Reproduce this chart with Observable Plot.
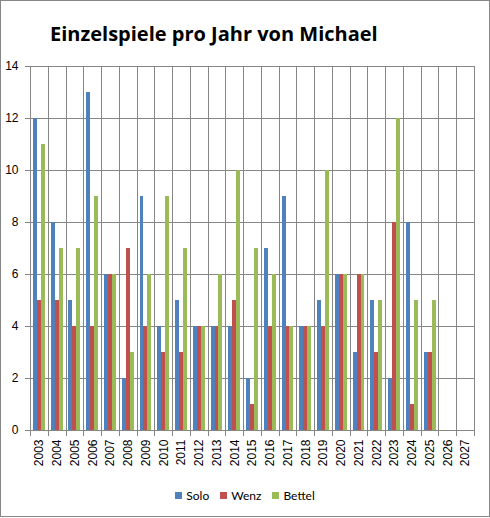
<!DOCTYPE html>
<html><head><meta charset="utf-8">
<script src="https://cdn.jsdelivr.net/npm/d3@7"></script>
<script src="https://cdn.jsdelivr.net/npm/@observablehq/plot@0.6"></script>
<style>
html,body{margin:0;padding:0;background:#fff;}
#chart{position:relative;width:488px;height:515px;border:1px solid #868686;overflow:hidden;background:#fff;}
#title{position:absolute;top:23px;left:49px;font-family:"Open Sans";font-weight:bold;font-size:20px;line-height:20px;color:#000;white-space:nowrap;}
#plot{position:absolute;top:50px;left:0;}
#legend{position:absolute;top:487px;left:0;width:488px;display:flex;justify-content:center;align-items:center;font-family:Lato;font-size:12px;color:#000;}
#legend .item{display:flex;align-items:center;margin:0 5.5px;}
#legend .sw{width:7px;height:7px;margin-right:4px;display:inline-block;}
</style></head><body>
<div id="chart"><div id="title">Einzelspiele pro Jahr von Michael</div><div id="plot"></div><div id="legend"></div></div>
<script>
const years = ["2003","2004","2005","2006","2007","2008","2009","2010","2011","2012","2013","2014","2015","2016","2017","2018","2019","2020","2021","2022","2023","2024","2025","2026","2027"];
const series = ["Solo","Wenz","Bettel"];
const solo   = [12, 8, 5, 13, 6, 2, 9, 4, 5, 4, 4, 4, 2, 7, 9, 4, 5, 6, 3, 5, 2, 8, 3, null, null];
const wenz   = [ 5, 5, 4,  4, 6, 7, 4, 3, 3, 4, 4, 5, 1, 4, 4, 4, 4, 6, 6, 3, 8, 1, 3, null, null];
const bettel = [11, 7, 7,  9, 6, 3, 6, 9, 7, 4, 6,10, 7, 6, 4, 4,10, 6, 6, 5,12, 5, 5, null, null];
const colors = ["#4F81BD","#C0504D","#9BBB59"];
const yTicks = [0, 2, 4, 6, 8, 10, 12, 14];

const valuesBySeries = {Solo: solo, Wenz: wenz, Bettel: bettel};
const rows = years.flatMap((y, i) => series.map(s => ({year: y, series: s, value: valuesBySeries[s][i]})));

const grid = "#868686";
const crisp = "crispEdges";
const plot = Plot.plot({
  width: 488, height: 420,
  marginLeft: 29, marginRight: 15, marginTop: 15, marginBottom: 41,
  style: {fontFamily: "Liberation Sans", fontSize: "12px", color: "#000", background: "#fff"},
  fx: {domain: years, padding: 0, round: false, label: null},
  x: {domain: series, paddingInner: 0, paddingOuter: 0.75, round: false, axis: null},
  y: {domain: [0, 14], label: null},
  color: {domain: series, range: colors},
  marks: [
    Plot.gridY(yTicks, {stroke: grid, strokeOpacity: 1, shapeRendering: crisp}),
    Plot.barY(rows, {fx: "year", x: "series", y: "value", fill: "series", shapeRendering: crisp}),
    Plot.frame({stroke: grid, shapeRendering: crisp}),
    Plot.frame({anchor: "left", stroke: grid, insetBottom: -5, shapeRendering: crisp}),
    Plot.frame({anchor: "right", stroke: grid, insetBottom: -5, shapeRendering: crisp}),
    Plot.axisY(yTicks, {tickSize: 5, tickPadding: 7, stroke: grid, fill: "#000", label: null, shapeRendering: crisp}),
    Plot.axisFx({anchor: "bottom", tickRotate: -90, tickSize: 0, tickPadding: 9, label: null, fill: "#000"})
  ]
});
document.getElementById("plot").appendChild(plot);

const lg = document.getElementById("legend");
series.forEach((s, i) => {
  const item = document.createElement("span");
  item.className = "item";
  const sw = document.createElement("span");
  sw.className = "sw";
  sw.style.background = colors[i];
  item.appendChild(sw);
  item.appendChild(document.createTextNode(s));
  lg.appendChild(item);
});
</script>
</body></html>
